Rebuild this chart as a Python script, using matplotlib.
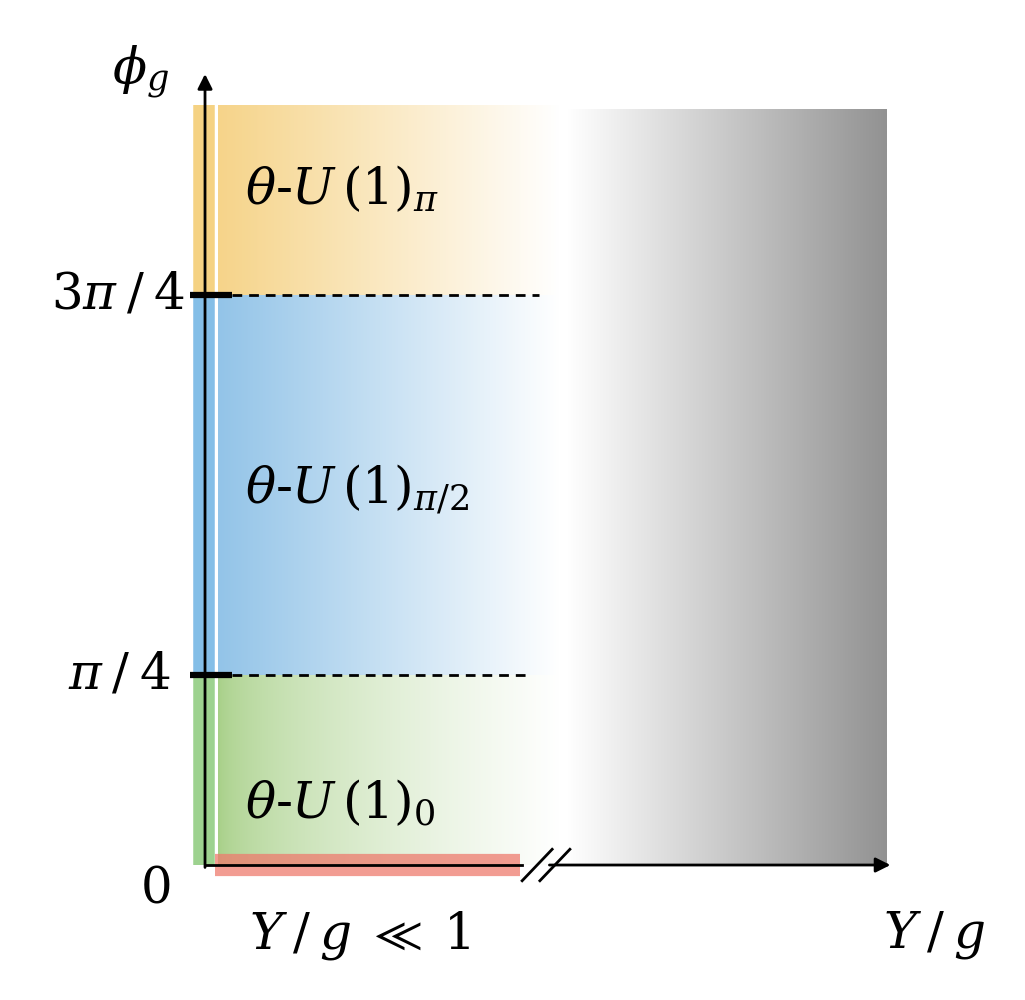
import numpy as np
import matplotlib
matplotlib.use('Agg')
import matplotlib.pyplot as plt
from matplotlib.colors import to_rgb

plt.rcParams['mathtext.fontset'] = 'dejavuserif'
plt.rcParams['font.family'] = 'DejaVu Serif'

# phase boundaries along phi_g
phase_bounds = [0, np.pi / 4, 3 * np.pi / 4, np.pi]
phase_labels = [r'$\theta$-$U\,(1)_0$', r'$\theta$-$U\,(1)_{\pi/2}$', r'$\theta$-$U\,(1)_\pi$']
strip_colors = ['#7CC46A', '#5BA8E0', '#F2C45A']
region_colors = ['#A6CF86', '#93C4E8', '#F6D48A']
tick_vals = [np.pi / 4, 3 * np.pi / 4]
tick_labels = [r'$\pi\:/\:4$', r'$3\pi\:/\:4$']
tick_label_x = [-0.05, -0.03]


def hgradient(ax, x0, x1, y0, y1, c_left, c_right, gamma=1.0):
    t = np.linspace(0, 1, 256) ** gamma
    a = np.array(to_rgb(c_left))
    b = np.array(to_rgb(c_right))
    img = a[None, :] * (1 - t[:, None]) + b[None, :] * t[:, None]
    ax.imshow(img[None, :, :], extent=[x0, x1, y0, y1], aspect='auto',
              interpolation='bilinear', zorder=1)


fig = plt.figure(figsize=(10.25, 10), dpi=100)
ax = fig.add_axes([0, 0, 1, 1])
ax.set_xlim(-0.3006, 1.2023)
ax.set_ylim(-0.558, 3.576)
ax.axis('off')

# low Y/g phases: colour fading to white
gammas = [0.6, 1.0, 1.0]
for i in range(3):
    hgradient(ax, 0.019, 0.52, phase_bounds[i], phase_bounds[i + 1],
              region_colors[i], 'white', gammas[i])

# large Y/g: white to grey
hgradient(ax, 0.531, 1.0, 0, np.pi - 0.02, 'white', '#929292')

# strips along phi axis
for i in range(3):
    ax.plot([-0.002, -0.002], [phase_bounds[i], phase_bounds[i + 1]],
            color=strip_colors[i], lw=15.5, alpha=0.75, solid_capstyle='butt', zorder=2)

# strip along Y/g axis
ax.plot([0.015, 0.462], [0, 0], color='#EE7B6E', lw=16, alpha=0.75,
        solid_capstyle='butt', zorder=2)

# axes with arrows
ax.annotate('', xy=(0, 3.27), xytext=(0, -0.01),
            arrowprops=dict(arrowstyle='-|>', lw=2, color='black', mutation_scale=22,
                            shrinkA=0, shrinkB=0), zorder=4)
ax.plot([0, 0.465], [0, 0], color='black', lw=2, zorder=4)
ax.annotate('', xy=(1.005, 0), xytext=(0.505, 0),
            arrowprops=dict(arrowstyle='-|>', lw=2, color='black', mutation_scale=22,
                            shrinkA=0, shrinkB=0), zorder=4)
# axis break
for xb in [0.487, 0.513]:
    ax.plot([xb - 0.022, xb + 0.022], [-0.065, 0.065], color='black', lw=2, zorder=4)

# phase boundaries
dash_ends = [0.47, 0.49]
for v, xe, lab, xl in zip(tick_vals, dash_ends, tick_labels, tick_label_x):
    ax.plot([0.04, xe], [v, v], color='black', lw=2, ls=(0, (3.5, 2.5)), zorder=3)
    ax.plot([-0.022, 0.04], [v, v], color='black', lw=4.5, solid_capstyle='butt', zorder=5)
    ax.text(xl, v, lab, fontsize=36, ha='right', va='center')

ax.text(-0.073, -0.1, r'$0$', fontsize=36, ha='center', va='center')
ax.text(-0.095, 3.28, r'$\phi_g$', fontsize=36, ha='center', va='center')
ax.text(0.227, -0.29, r'$Y\:/\:g \;\ll\; 1$', fontsize=36, ha='center', va='center')
ax.text(1.07, -0.29, r'$Y\:/\:g$', fontsize=36, ha='center', va='center')

label_y = [0.25, 1.55, 2.79]
for yl, lab in zip(label_y, phase_labels):
    ax.text(0.059, yl, lab, fontsize=36, ha='left', va='center', zorder=6)

fig.savefig('out.png', dpi=100)
